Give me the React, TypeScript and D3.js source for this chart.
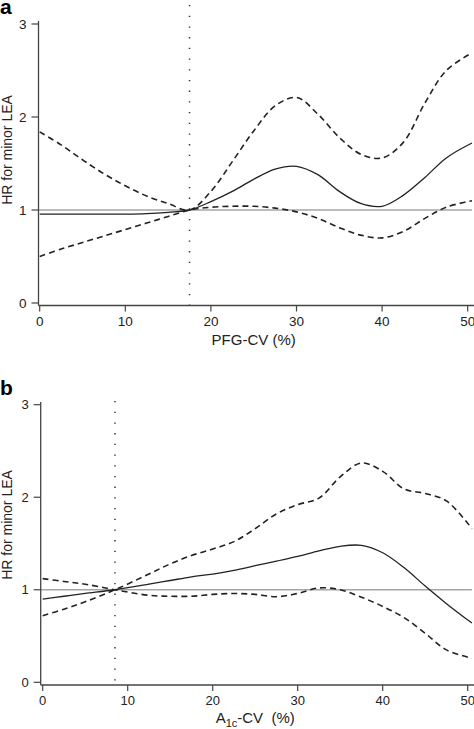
import React from "react";
import * as d3 from "d3";

// ---- Panel a: PFG-CV ----
const xA = [0, 2.5, 5, 7.5, 10, 12.5, 15, 17.5, 20, 22.5, 25, 27.5, 30, 32.5, 35, 37.5, 40, 42.5, 45, 47.5, 50.5];
const hrA = [0.955, 0.955, 0.955, 0.955, 0.955, 0.96, 0.975, 1.0, 1.09, 1.2, 1.33, 1.44, 1.47, 1.38, 1.2, 1.07, 1.04, 1.16, 1.35, 1.56, 1.72];
const upA = [1.84, 1.7, 1.54, 1.39, 1.26, 1.15, 1.07, 1.0, 1.2, 1.52, 1.85, 2.12, 2.21, 2.03, 1.78, 1.6, 1.56, 1.73, 2.15, 2.5, 2.69];
const loA = [0.5, 0.58, 0.65, 0.72, 0.79, 0.86, 0.93, 1.0, 1.03, 1.04, 1.04, 1.02, 0.98, 0.91, 0.81, 0.73, 0.7, 0.77, 0.91, 1.03, 1.1];
const refA = 17.5;

// ---- Panel b: A1c-CV ----
const xB = [0, 2.5, 5, 8.5, 12.5, 15, 17.5, 20, 22.5, 25, 27.5, 30, 32.5, 35, 37.5, 40, 42.5, 45, 47.5, 50.5];
const hrB = [0.9, 0.93, 0.96, 1.0, 1.06, 1.1, 1.14, 1.17, 1.21, 1.26, 1.31, 1.36, 1.42, 1.47, 1.48, 1.4, 1.24, 1.04, 0.85, 0.64];
const upB = [0.72, 0.79, 0.87, 1.0, 1.17, 1.28, 1.37, 1.44, 1.52, 1.66, 1.82, 1.92, 1.99, 2.22, 2.37, 2.28, 2.09, 2.04, 1.96, 1.66];
const loB = [1.12, 1.09, 1.06, 1.0, 0.94, 0.93, 0.93, 0.95, 0.96, 0.95, 0.925, 0.96, 1.02, 1.0, 0.92, 0.82, 0.7, 0.53, 0.35, 0.26];
const refB = 8.5;

const yTicks = [0, 1, 2, 3];
const xTicks = [0, 10, 20, 30, 40, 50];
const yTitle = "HR for minor LEA";

const FONT = "'Liberation Sans', Arial, Helvetica, sans-serif";

type PanelProps = {
  letter: string;
  letterY: number;
  xs: number[];
  hr: number[];
  up: number[];
  lo: number[];
  ref: number;
  x0: number;
  x50: number;
  y0: number;
  y3: number;
  axisX: number;
  axisY: number;
  plotTop: number;
  refTop: number;
  tickFont: number;
  yTitleY: number;
  xTitleY: number;
  xTitle: React.ReactNode;
};

function Panel(p: PanelProps) {
  const x = d3.scaleLinear().domain([0, 50]).range([p.x0, p.x50]);
  const y = d3.scaleLinear().domain([0, 3]).range([p.y0, p.y3]);
  const line = d3
    .line<number>()
    .x((_, i) => x(p.xs[i]))
    .y((d) => y(d))
    .curve(d3.curveCatmullRom.alpha(0.5));
  const right = 474;
  return (
    <g>
      <text x={0} y={p.letterY} fontFamily={FONT} fontWeight="bold" fontSize={21}>
        {p.letter}
      </text>
      {/* reference horizontal line */}
      <line x1={p.axisX} x2={x(50.5)} y1={y(1)} y2={y(1)} stroke="#a6a6a6" strokeWidth={1.6} />
      {/* reference vertical dotted line */}
      <line
        x1={x(p.ref)}
        x2={x(p.ref)}
        y1={p.refTop}
        y2={p.axisY}
        stroke="#333"
        strokeWidth={1.5}
        strokeDasharray="1.3,9.4"
      />
      <path d={line(p.up) || ""} fill="none" stroke="#222" strokeWidth={1.6} strokeDasharray="6,4" />
      <path d={line(p.lo) || ""} fill="none" stroke="#222" strokeWidth={1.6} strokeDasharray="6,4" />
      <path d={line(p.hr) || ""} fill="none" stroke="#222" strokeWidth={1.3} />
      {/* axes */}
      <line x1={p.axisX} x2={p.axisX} y1={p.plotTop} y2={p.axisY} stroke="#444" strokeWidth={1.3} />
      <line x1={p.axisX} x2={right} y1={p.axisY} y2={p.axisY} stroke="#444" strokeWidth={1.3} />
      {yTicks.map((t) => (
        <g key={"y" + t}>
          <line x1={p.axisX - 7} x2={p.axisX} y1={y(t)} y2={y(t)} stroke="#444" strokeWidth={1.2} />
          <text
            x={p.axisX - 12}
            y={y(t)}
            dy="0.36em"
            textAnchor="end"
            fontFamily={FONT}
            fontSize={p.tickFont}
            fill="#222"
          >
            {t}
          </text>
        </g>
      ))}
      {xTicks.map((t) => (
        <g key={"x" + t}>
          <line x1={x(t)} x2={x(t)} y1={p.axisY} y2={p.axisY + 6} stroke="#444" strokeWidth={1.2} />
          <text
            x={x(t)}
            y={p.axisY + 20}
            textAnchor="middle"
            fontFamily={FONT}
            fontSize={p.tickFont}
            fill="#222"
          >
            {t}
          </text>
        </g>
      ))}
      <text
        transform={`translate(12,${p.yTitleY}) rotate(-90)`}
        textAnchor="middle"
        fontFamily={FONT}
        fontSize={14}
        fill="#222"
      >
        {yTitle}
      </text>
      <text
        x={(p.x0 + p.x50) / 2}
        y={p.xTitleY}
        textAnchor="middle"
        fontFamily={FONT}
        fontSize={15}
        fill="#222"
        style={{ whiteSpace: "pre" }}
      >
        {p.xTitle}
      </text>
    </g>
  );
}

export default function App() {
  return (
    <svg
      width={474}
      height={729}
      style={{ position: "absolute", left: 0, top: 0, background: "#fff" }}
    >
      <rect width={474} height={729} fill="#fff" />
      <Panel
        letter="a"
        letterY={14}
        xs={xA}
        hr={hrA}
        up={upA}
        lo={loA}
        ref={refA}
        x0={39.7}
        x50={467.7}
        y0={303}
        y3={24}
        axisX={38.5}
        axisY={305.5}
        plotTop={21}
        refTop={5}
        tickFont={13.5}
        yTitleY={150}
        xTitleY={345}
        xTitle={"PFG-CV (%)"}
      />
      <Panel
        letter="b"
        letterY={395}
        xs={xB}
        hr={hrB}
        up={upB}
        lo={loB}
        ref={refB}
        x0={42.7}
        x50={467.7}
        y0={682.3}
        y3={404.7}
        axisX={40.7}
        axisY={685}
        plotTop={402}
        refTop={401}
        tickFont={13}
        yTitleY={525}
        xTitleY={723}
        xTitle={
          <>
            A<tspan dy={4} fontSize={11}>1c</tspan>
            <tspan dy={-4}>{"-CV  (%)"}</tspan>
          </>
        }
      />
    </svg>
  );
}
